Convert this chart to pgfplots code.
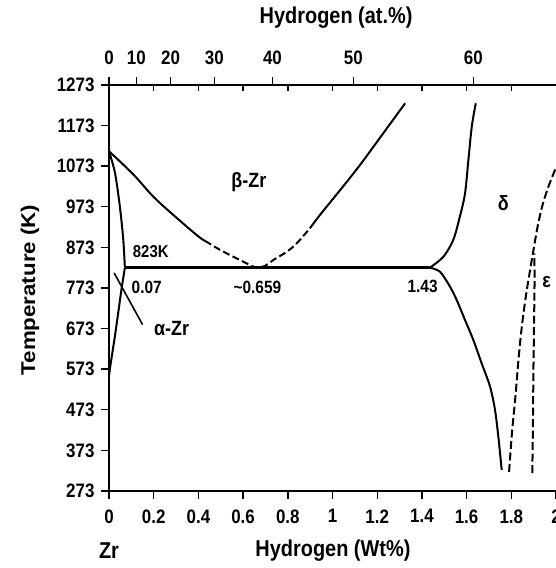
\documentclass[border=0pt]{standalone}
\usepackage{graphicx}
\usepackage{fontspec}
\setmainfont{Liberation Sans}
\usepackage{pgfplots}
\pgfplotsset{compat=1.18}
\usetikzlibrary{calc}
\newcommand{\vs}[1]{\scalebox{1}[1.15]{#1}}
\newcommand{\tk}{\fontsize{17}{20}\selectfont\bfseries}
\newcommand{\lb}{\fontsize{20}{24}\selectfont\bfseries}
\begin{document}
\begin{tikzpicture}
\begin{axis}[
  name=main,
  scale only axis, width=447bp, height=406bp,
  xmin=0, xmax=2, ymin=273, ymax=1273,
  axis x line*=bottom, axis y line*=left,
  axis line style={line width=1.6bp, -},
  xtick={0,0.2,0.4,0.6,0.8,1,1.2,1.4,1.6,1.8,2},
  xticklabels={\vs{0},\vs{0.2},\vs{0.4},\vs{0.6},\vs{0.8},\vs{1},\vs{1.2},\vs{1.4},\vs{1.6},\vs{1.8},\vs{2}},
  ytick={273,373,473,573,673,773,873,973,1073,1173,1273},
  yticklabels={\vs{273},\vs{373},\vs{473},\vs{573},\vs{673},\vs{773},\vs{873},\vs{973},\vs{1073},\vs{1173},\vs{1273}},
  tick align=outside, major tick length=8bp,
  tick style={line width=1.4bp, black},
  ticklabel style={font=\tk},
  xticklabel style={yshift=-7bp},
  yticklabel style={xshift=-3bp},
  clip mode=individual,
]
% beta transus, solid part
\addplot[line width=2bp, smooth] coordinates {(0,1110) (0.11,1052) (0.2,997) (0.3,947) (0.4,900) (0.43,889)};
% beta transus, dashed part through the minimum
\addplot[line width=2bp, smooth, dash pattern=on 7bp off 3.5bp] coordinates {(0.43,889) (0.5,866) (0.6,838) (0.66,823) (0.70,828) (0.735,842) (0.795,862) (0.84,883) (0.899,920)};
% beta/(beta+delta), solid
\addplot[line width=2bp, smooth] coordinates {(0.899,920) (0.944,953) (1.034,1014) (1.123,1076) (1.227,1154) (1.325,1228)};
% alpha/(alpha+beta)
\addplot[line width=2bp, smooth] coordinates {(0,1110) (0.027,1056) (0.049,972) (0.064,891) (0.071,823)};
% alpha solvus
\addplot[line width=2bp, smooth] coordinates {(0.071,823) (0.056,770) (0.042,715) (0.028,660) (0.014,610) (0.003,570) (0,555)};
% eutectoid
\addplot[line width=3bp] coordinates {(0.071,823) (1.436,823)};
% delta upper
\addplot[line width=2bp, smooth] coordinates {(1.436,823) (1.496,850) (1.540,891) (1.570,949) (1.593,1006) (1.608,1088) (1.623,1170) (1.641,1228)};
% delta lower
\addplot[line width=2bp, smooth] coordinates {(1.436,823) (1.481,813) (1.526,776) (1.556,743) (1.593,694) (1.630,645) (1.667,588) (1.705,530) (1.727,473) (1.742,407) (1.757,325)};
% epsilon dashed A
\addplot[line width=2bp, smooth, dash pattern=on 8bp off 3.5bp] coordinates {(1.790,320) (1.803,416) (1.819,509) (1.834,608) (1.848,682) (1.866,756) (1.884,817) (1.899,866) (1.919,928) (1.942,982) (1.969,1027) (1.996,1064) (2.004,1073)};
% epsilon dashed B
\addplot[line width=2bp, smooth, dash pattern=on 8bp off 3.5bp] coordinates {(1.894,317) (1.897,448) (1.899,571) (1.902,694) (1.904,793) (1.903,858)};
% leader line to alpha-Zr
\addplot[line width=1.6bp] coordinates {(0.023,810) (0.150,683)};

\node[font=\fontsize{18}{20}\selectfont\bfseries] at (axis cs:0.626,1033) {\vs{β-Zr}};
\node[font=\fontsize{15}{18}\selectfont\bfseries] at (axis cs:0.187,862) {\vs{823K}};
\node[font=\fontsize{15.5}{18}\selectfont\bfseries] at (axis cs:0.169,775) {\vs{0.07}};
\node[font=\fontsize{15.5}{18}\selectfont\bfseries] at (axis cs:0.664,775) {\vs{\textasciitilde0.659}};
\node[font=\fontsize{15.5}{18}\selectfont\bfseries] at (axis cs:1.403,776) {\vs{1.43}};
\node[font=\fontsize{18}{20}\selectfont\bfseries] at (axis cs:0.280,674) {\vs{α-Zr}};
\node[font=\fontsize{18}{20}\selectfont\bfseries] at (axis cs:1.764,982) {\vs{δ}};
\node[font=\fontsize{18}{20}\selectfont\bfseries] at (axis cs:1.958,788) {\vs{ε}};

\node[font=\lb, yshift=-60bp] at (rel axis cs:0.501,0) {\vs{Hydrogen (Wt\%)}};
\node[font=\lb, yshift=-60bp] at (rel axis cs:0,0) {\vs{Zr}};
\node[font=\lb, yshift=67bp] at (rel axis cs:0.508,1) {\vs{Hydrogen (at.\%)}};
\node[font=\lb, rotate=90] at ([xshift=-79bp]rel axis cs:0,0.495) {\scalebox{1.12}[1]{Temperature (K)}};
\end{axis}
\begin{axis}[
  scale only axis, width=447bp, height=406bp,
  xmin=0, xmax=2, ymin=273, ymax=1273,
  axis x line*=top, axis y line=none,
  axis line style={line width=1.6bp, -},
  xtick={0,0.1226,0.2755,0.4713,0.7313,1.093,1.630},
  xticklabels={\vs{0},\vs{10},\vs{20},\vs{30},\vs{40},\vs{50},\vs{60}},
  tick align=outside, major tick length=8bp,
  tick style={line width=1.4bp, black},
  ticklabel style={font=\tk},
  xticklabel style={yshift=9bp},
  extra x ticks={0.2,0.4,0.6,0.8,1,1.2,1.4,1.6,1.8},
  extra x tick labels={},
  extra x tick style={tick align=inside, major tick length=6bp},
]
\end{axis}
\pgfresetboundingbox
\path ($(main.south west)+(-109bp,-77bp)$) rectangle ($(main.north east)+(0,85bp)$);
\end{tikzpicture}
\end{document}
